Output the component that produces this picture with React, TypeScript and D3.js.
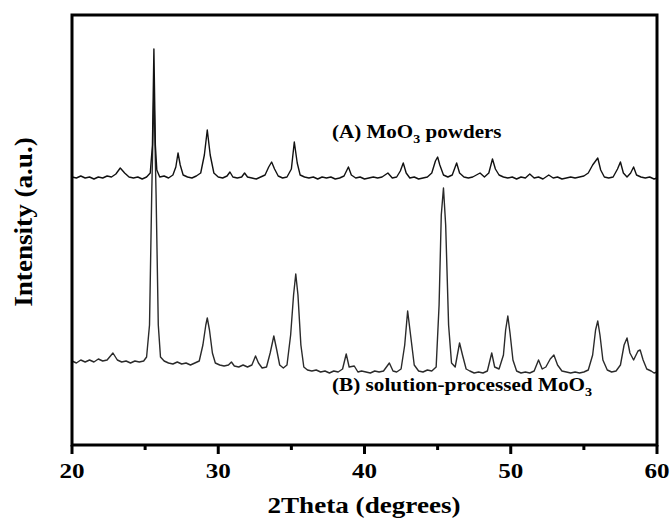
import React from "react";
import * as d3 from "d3";

// 2θ (degrees) and intensity (a.u.)
const seriesA: [number, number][] = [
  [20.0, 268], [20.3, 267], [20.6, 269], [20.9, 267], [21.2, 268], [21.5, 266], [21.8, 268], [22.1, 267],
  [22.4, 269], [22.7, 268], [23.0, 271], [23.3, 277], [23.6, 272], [23.9, 268], [24.2, 267], [24.5, 268],
  [24.8, 266], [25.1, 268], [25.35, 272], [25.5, 300], [25.6, 396], [25.7, 300], [25.8, 275], [26.0, 268],
  [26.3, 269], [26.6, 267], [26.9, 270], [27.1, 278], [27.25, 292], [27.4, 280], [27.6, 270], [27.9, 268],
  [28.2, 267], [28.5, 269], [28.8, 272], [29.05, 290], [29.25, 315], [29.45, 290], [29.7, 272], [30.0, 268],
  [30.3, 267], [30.6, 269], [30.8, 273], [31.0, 268], [31.3, 267], [31.6, 268], [31.8, 272], [32.0, 268],
  [32.3, 267], [32.6, 266], [32.9, 268], [33.2, 270], [33.45, 278], [33.65, 283], [33.85, 276], [34.1, 269],
  [34.4, 267], [34.7, 268], [35.0, 276], [35.2, 303], [35.4, 282], [35.6, 270], [35.9, 268], [36.2, 267],
  [36.5, 268], [36.8, 266], [37.1, 268], [37.4, 267], [37.7, 268], [38.0, 266], [38.3, 267], [38.6, 269],
  [38.9, 278], [39.1, 270], [39.4, 267], [39.7, 268], [40.0, 266], [40.3, 267], [40.6, 268], [40.9, 267],
  [41.2, 268], [41.6, 272], [41.9, 267], [42.2, 268], [42.45, 274], [42.65, 282], [42.85, 272], [43.1, 267],
  [43.4, 268], [43.7, 266], [44.0, 267], [44.3, 268], [44.6, 272], [44.85, 284], [45.0, 288], [45.15, 280],
  [45.4, 270], [45.7, 268], [46.0, 270], [46.3, 282], [46.5, 272], [46.8, 268], [47.1, 267], [47.4, 268],
  [47.9, 272], [48.2, 268], [48.5, 272], [48.75, 286], [48.95, 276], [49.2, 270], [49.5, 268], [49.8, 267],
  [50.1, 268], [50.4, 266], [50.7, 268], [51.0, 267], [51.3, 271], [51.6, 267], [51.9, 268], [52.2, 266],
  [52.6, 270], [52.9, 267], [53.2, 268], [53.5, 266], [53.8, 267], [54.1, 268], [54.4, 267], [54.7, 268],
  [55.0, 269], [55.3, 272], [55.6, 280], [55.8, 284], [55.95, 287], [56.15, 275], [56.4, 268], [56.7, 267],
  [57.0, 268], [57.3, 276], [57.5, 283], [57.7, 272], [57.95, 268], [58.2, 272], [58.4, 278], [58.6, 270],
  [58.9, 268], [59.2, 267], [59.5, 268], [59.8, 266], [60.0, 267],
];

const seriesB: [number, number][] = [
  [20.0, 84], [20.3, 82], [20.6, 85], [20.9, 83], [21.2, 85], [21.5, 83], [21.8, 86], [22.1, 84],
  [22.4, 85], [22.8, 92], [23.1, 85], [23.4, 83], [23.7, 84], [24.0, 82], [24.3, 84], [24.6, 83],
  [24.9, 84], [25.1, 88], [25.3, 120], [25.45, 250], [25.6, 355], [25.75, 250], [25.9, 120], [26.05, 88],
  [26.3, 84], [26.6, 82], [26.9, 81], [27.2, 83], [27.5, 81], [27.8, 82], [28.1, 80], [28.4, 82],
  [28.7, 84], [28.95, 100], [29.15, 120], [29.25, 127], [29.4, 115], [29.6, 92], [29.8, 82], [30.1, 80],
  [30.4, 79], [30.7, 80], [30.9, 83], [31.1, 79], [31.4, 78], [31.7, 80], [32.0, 78], [32.3, 80],
  [32.55, 89], [32.75, 82], [33.0, 77], [33.3, 78], [33.55, 92], [33.8, 109], [34.0, 95], [34.2, 80],
  [34.45, 77], [34.7, 80], [34.95, 110], [35.15, 150], [35.3, 171], [35.45, 150], [35.65, 100], [35.85, 78],
  [36.1, 75], [36.4, 74], [36.7, 75], [37.0, 73], [37.3, 74], [37.6, 72], [37.9, 74], [38.2, 73],
  [38.5, 76], [38.75, 91], [38.95, 78], [39.3, 79], [39.55, 73], [39.8, 74], [40.1, 73], [40.4, 72],
  [40.7, 74], [41.0, 73], [41.3, 74], [41.7, 82], [41.95, 74], [42.2, 73], [42.5, 76], [42.75, 100],
  [42.95, 134], [43.15, 110], [43.4, 80], [43.7, 74], [44.0, 73], [44.3, 75], [44.6, 74], [44.9, 78],
  [45.1, 140], [45.25, 230], [45.4, 257], [45.55, 220], [45.75, 120], [45.95, 82], [46.2, 78], [46.5, 102],
  [46.7, 90], [46.95, 76], [47.2, 74], [47.5, 72], [47.8, 73], [48.1, 72], [48.4, 74], [48.7, 92],
  [48.9, 78], [49.2, 76], [49.5, 90], [49.65, 115], [49.8, 129], [49.95, 112], [50.15, 85], [50.4, 74],
  [50.7, 72], [51.0, 73], [51.3, 72], [51.6, 74], [51.9, 85], [52.15, 76], [52.4, 78], [52.7, 86],
  [52.95, 90], [53.2, 80], [53.5, 74], [53.8, 73], [54.1, 72], [54.4, 73], [54.7, 72], [55.0, 73],
  [55.3, 75], [55.6, 90], [55.8, 115], [55.95, 124], [56.1, 110], [56.3, 85], [56.6, 75], [56.9, 73],
  [57.2, 74], [57.5, 80], [57.75, 100], [57.95, 107], [58.15, 92], [58.4, 85], [58.7, 94], [58.85, 95],
  [59.05, 85], [59.3, 76], [59.6, 74], [59.8, 72], [60.0, 73],
];

const majorTicks = [20, 30, 40, 50, 60];
const minorTicks = [25, 35, 45, 55];
const xDomain: [number, number] = [20, 60];
const yDomain: [number, number] = [0, 430];

const W = 672;
const H = 521;
const L = 72, R = 657, T = 15, B = 445;
const FONT = "'Liberation Serif', 'Times New Roman', serif";

export default function App() {
  const x = d3.scaleLinear().domain(xDomain).range([L, R]);
  const y = d3.scaleLinear().domain(yDomain).range([B, T]);
  const line = d3
    .line<[number, number]>()
    .x((d) => x(d[0]))
    .y((d) => y(d[1]));

  return (
    <svg
      width={W}
      height={H}
      style={{ position: "absolute", left: 0, top: 0, background: "#fff" }}
      fontFamily={FONT}
      fontWeight="bold"
      fill="#000"
    >
      <path d={line(seriesB) || ""} fill="none" stroke="#2a2a2a" strokeWidth={1.4} strokeLinejoin="round" />
      <path d={line(seriesA) || ""} fill="none" stroke="#111" strokeWidth={1.4} strokeLinejoin="round" />

      <rect x={L} y={T} width={R - L} height={B - T} fill="none" stroke="#000" strokeWidth={3} />

      {majorTicks.map((t) => (
        <g key={"M" + t}>
          <line x1={x(t)} x2={x(t)} y1={B} y2={B + 9} stroke="#000" strokeWidth={3} />
          <g transform={`translate(${x(t)},478) scale(1.14,1)`}>
            <text x={0} y={0} textAnchor="middle" fontSize={22}>
              {t}
            </text>
          </g>
        </g>
      ))}
      {minorTicks.map((t) => (
        <line key={"m" + t} x1={x(t)} x2={x(t)} y1={B} y2={B + 5} stroke="#000" strokeWidth={3} />
      ))}

      <g transform="translate(364,513) scale(1.18,1)">
        <text x={0} y={0} textAnchor="middle" fontSize={23}>
          2Theta (degrees)
        </text>
      </g>
      <g transform="translate(32,222) rotate(-90) scale(1.18,1.05)">
        <text x={0} y={0} textAnchor="middle" fontSize={23}>
          Intensity (a.u.)
        </text>
      </g>

      <g transform="translate(332,138) scale(1.17,1)">
        <text x={0} y={0} fontSize={18}>
          (A) MoO<tspan fontSize={12} dy={5}>3</tspan>
          <tspan dy={-5}> powders</tspan>
        </text>
      </g>
      <g transform="translate(332,391) scale(1.18,1)">
        <text x={0} y={0} fontSize={18}>
          (B) solution-processed MoO<tspan fontSize={12} dy={5}>3</tspan>
        </text>
      </g>
    </svg>
  );
}
